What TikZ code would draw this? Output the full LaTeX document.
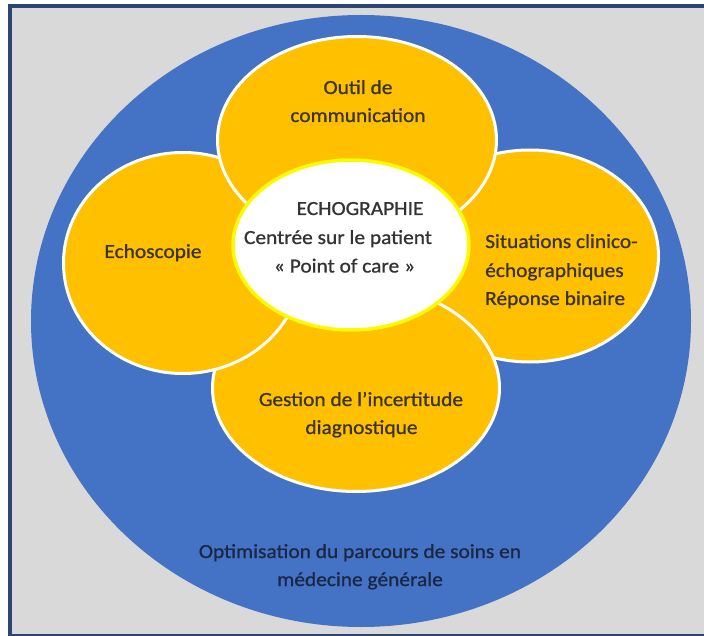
\documentclass[tikz,border=0pt]{standalone}
\usepackage{fontspec}
\setmainfont{Carlito}[FakeStretch=1.07,FakeBold=0.9]
\usetikzlibrary{shapes.geometric}
\definecolor{bgray}{HTML}{D9D9D9}
\definecolor{framec}{HTML}{2C4572}
\definecolor{oblue}{HTML}{4472C4}
\definecolor{ogold}{HTML}{FFC000}
\definecolor{ryellow}{HTML}{FAFA00}
\definecolor{tdark}{HTML}{3A3326}
\definecolor{tcent}{HTML}{333333}
\definecolor{tnavy}{HTML}{1B2744}
\tikzset{
  petal/.style={ellipse, fill=ogold, draw=white, line width=3pt, inner sep=0pt},
  txt/.style={anchor=base, inner sep=0pt, text=tdark, font=\fontsize{20}{24}\selectfont},
  txtw/.style={txt, anchor=base west},
  txtc/.style={txt, text=tcent},
  txtb/.style={txt, text=tnavy}
}
\begin{document}
\begin{tikzpicture}[x=1pt,y=-1pt]
\useasboundingbox (0,0) rectangle (704,636);
\fill[white] (0,0) rectangle (704,636);
\draw[fill=bgray, draw=framec, line width=4pt] (10,6.5) rectangle (714,635.5);
\node[ellipse, fill=oblue, inner sep=0pt, minimum width=660pt, minimum height=612pt] (outer) at (361,321) {};
\node[petal, minimum width=257pt, minimum height=212pt] (right) at (530,256) {};
\node[petal, minimum width=287pt, minimum height=207pt] (bottom) at (356,388) {};
\node[petal, minimum width=239pt, minimum height=221pt] (left) at (183,263) {};
\node[petal, minimum width=279pt, minimum height=207pt] (top) at (357,140) {};
\node[ellipse, fill=white, draw=ryellow, line width=3.5pt, inner sep=0pt, minimum width=236pt, minimum height=170pt] (center) at (351,245) {};
% texts
\node[txt] (t1) at (358,94) {Outil de};
\node[txt] (t2) at (358,122) {communication};
\node[txtc] (c1) at (360,215) {ECHOGRAPHIE};
\node[txtc] (c2) at (338,244) {Centrée sur le patient};
\node[txtc] (c3) at (344.5,272.5) {« Point of care »};
\node[txt] (l1) at (153,258) {Echoscopie};
\node[txtw] (r1) at (485,248) {Situations clinico-};
\node[txtw] (r2) at (485,277) {échographiques};
\node[txtw] (r3) at (485,305) {Réponse binaire};
\node[txt] (b1) at (361,406) {Gestion de l’incertitude};
\node[txt] (b2) at (361.5,434) {diagnostique};
\node[txtb] (o1) at (360,558) {Optimisation du parcours de soins en};
\node[txtb] (o2) at (360,586) {médecine générale};
\end{tikzpicture}
\end{document}
